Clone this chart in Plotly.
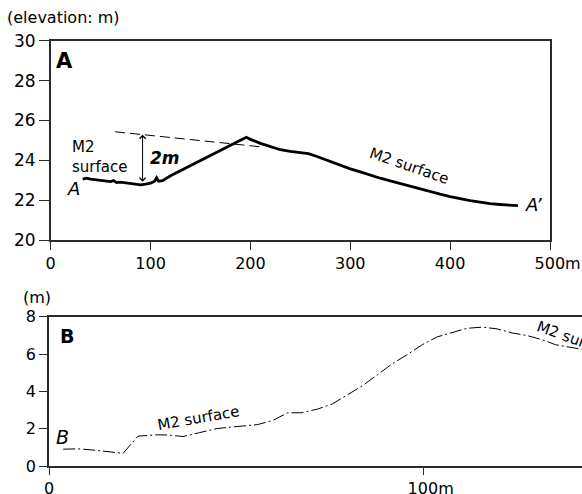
import plotly.graph_objects as go

# ---------------- data ----------------
# Panel A profile (distance m, elevation m)
a_dist = [32, 36, 40, 45, 50, 55, 60, 63, 66, 70, 75, 80, 85, 90, 95, 100, 104, 106, 108, 112,
          120, 130, 140, 150, 160, 170, 180, 190, 196, 200, 210, 220, 230, 240, 250, 258, 266,
          274, 282, 290, 300, 310, 320, 330, 340, 350, 360, 370, 380, 390, 400, 410, 420, 430,
          440, 450, 460, 468]
a_elev = [23.05, 23.1, 23.05, 23.02, 23.0, 22.98, 22.93, 22.98, 22.88, 22.9, 22.86, 22.83, 22.8,
          22.77, 22.8, 22.85, 22.95, 23.12, 22.95, 22.98,
          23.22, 23.48, 23.74, 24.0, 24.25, 24.5, 24.78, 25.0, 25.15, 25.05, 24.85, 24.68, 24.53,
          24.45, 24.4, 24.33, 24.2, 24.05, 23.9, 23.75, 23.57, 23.42, 23.25, 23.1, 22.97, 22.83,
          22.7, 22.55, 22.42, 22.3, 22.18, 22.07, 21.97, 21.9, 21.82, 21.78, 21.74, 21.72]

# reconstructed M2 surface (dashed) in panel A
a_dash_dist = [64.5, 209.6]
a_dash_elev = [25.43, 24.68]

# 2 m offset arrow
arrow_x = 92
arrow_top = 25.28
arrow_bottom = 22.85

# Panel B profile
b_dist = [3.8, 7.8, 12, 16, 19.8, 23.8, 28.7, 32, 35.8, 40.3, 44.7, 48.5, 52.7, 55.8, 59.8, 63.8,
          67.4, 71.8, 75.8, 79.8, 83.8, 87.8, 91.8, 95.8, 99.8, 103.8, 107.8, 111.8, 115.8, 119.8,
          123.8, 127.8, 131.8, 135.4, 138, 142, 145]
b_elev = [0.9, 0.92, 0.85, 0.77, 0.68, 1.6, 1.67, 1.66, 1.58, 1.79, 2.0, 2.08, 2.15, 2.22, 2.44,
          2.85, 2.85, 3.05, 3.33, 3.82, 4.3, 4.89, 5.48, 5.97, 6.5, 6.92, 7.17, 7.38, 7.44, 7.35,
          7.13, 6.99, 6.77, 6.5, 6.41, 6.27, 6.22]

a_xticks = [0, 100, 200, 300, 400, 500]
a_xtext = ["0", "100", "200", "300", "400", "\u00a0\u00a0\u00a0500m"]
a_yticks = [20, 22, 24, 26, 28, 30]
b_xticks = [0, 100]
b_xtext = ["0", "\u00a0\u00a0\u00a0100m"]
b_yticks = [0, 2, 4, 6, 8]

FONT = "DejaVu Sans"
AX = "#2a2a2a"

fig = go.Figure()

fig.add_trace(go.Scatter(x=a_dist, y=a_elev, mode="lines",
                         line=dict(color="black", width=2.8), xaxis="x", yaxis="y",
                         showlegend=False, hoverinfo="skip"))
fig.add_trace(go.Scatter(x=a_dash_dist, y=a_dash_elev, mode="lines",
                         line=dict(color="black", width=1, dash="10px,5px"), xaxis="x", yaxis="y",
                         showlegend=False, hoverinfo="skip"))
fig.add_trace(go.Scatter(x=b_dist, y=b_elev, mode="lines",
                         line=dict(color="black", width=1, dash="12px,3px,2px,3px"),
                         xaxis="x2", yaxis="y2", showlegend=False, hoverinfo="skip"))

common = dict(showgrid=False, zeroline=False, showline=True, linecolor=AX, linewidth=1.5,
              ticks="outside", tickcolor=AX, tickwidth=1, fixedrange=True, automargin=False)

fig.update_layout(
    width=582, height=494,
    margin=dict(l=0, r=0, t=0, b=0, pad=0, autoexpand=False),
    paper_bgcolor="white", plot_bgcolor="white",
    font=dict(family=FONT, color="black"),
    xaxis=dict(domain=[50.7 / 582, 550 / 582], range=[0, 500], anchor="y",
               tickvals=a_xticks, ticktext=a_xtext, ticklen=8, mirror=True,
               tickfont=dict(size=16), **common),
    yaxis=dict(domain=[(494 - 240) / 494, (494 - 40.7) / 494], range=[20, 30], anchor="x",
               tickvals=a_yticks, ticklen=10, mirror=True, tickfont=dict(size=17), **common),
    xaxis2=dict(domain=[49 / 582, 1.0], range=[0, 142.5], anchor="y2",
                tickvals=b_xticks, ticktext=b_xtext, ticklen=7, mirror=True,
                tickfont=dict(size=16), **common),
    yaxis2=dict(domain=[(494 - 466) / 494, (494 - 316.7) / 494], range=[0, 8], anchor="x2",
                tickvals=b_yticks, ticklen=8, mirror=False, tickfont=dict(size=16), **common),
)

ann = []
def t(text, x, y, xref="x", yref="y", size=15, angle=0, xanchor="center", align="center", **kw):
    ann.append(dict(text=text, x=x, y=y, xref=xref, yref=yref, showarrow=False,
                    font=dict(family=FONT, size=size, color="black"), textangle=angle,
                    xanchor=xanchor, yanchor="middle", align=align, **kw))

t("(elevation: m)", 5 / 582, (494 - 17.5) / 494, "paper", "paper", size=16, xanchor="left")
t("(m)", 21 / 582, (494 - 297.5) / 494, "paper", "paper", size=16, xanchor="left")
t("<b>A</b>", 13.4, 29.0, size=21)
t("M2<br>surface", 19.4, 24.14, size=15, xanchor="left", align="left")
t("<b><i>2m</i></b>", 114.7, 24.1, size=17)
t("<i>A</i>", 22.7, 22.6, size=18)
t("<i>A’</i>", 483, 21.76, size=18)
t("M2 surface", 359.3, 23.72, size=15, angle=19)
t("<b>B</b>", 4.7, 6.95, "x2", "y2", size=19)
t("<i>B</i>", 3.6, 1.53, "x2", "y2", size=19)
t("M2 surface", 40.1, 2.58, "x2", "y2", size=15, angle=-10)
t("M2 surface", 141.1, 6.77, "x2", "y2", size=15, angle=20)

ann.append(dict(x=arrow_x, y=arrow_top, ax=arrow_x, ay=arrow_bottom, xref="x", yref="y",
                axref="x", ayref="y", showarrow=True, arrowhead=4, arrowside="end+start",
                arrowsize=1.2, arrowwidth=1, arrowcolor="black", text=""))

fig.update_layout(annotations=ann)

fig.write_html("out.html", config={"displayModeBar": False},
               post_script="document.body.style.margin='0';document.body.style.overflow='hidden';")
